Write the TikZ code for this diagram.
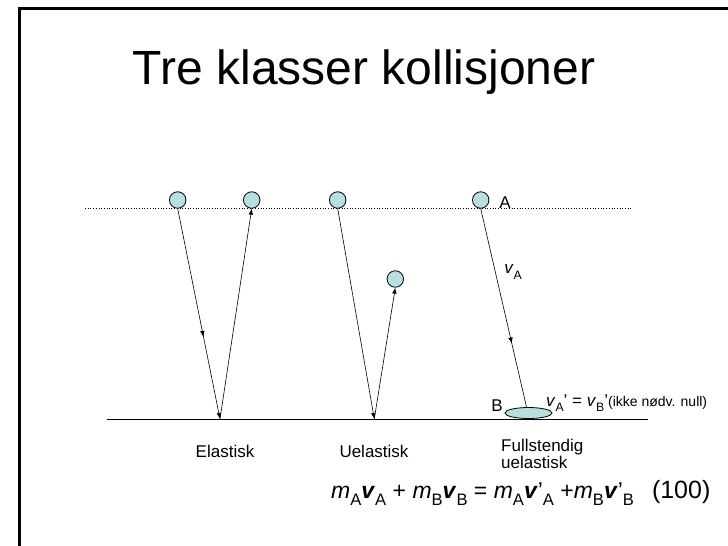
\documentclass[tikz,border=0pt]{standalone}
\usepackage{fontspec}
\usepackage{graphicx}
\setmainfont{Liberation Sans}
\usetikzlibrary{arrows.meta,shapes.geometric,decorations.markings}
\definecolor{ballblue}{RGB}{184,222,224}
\newcommand\lo[1]{\raisebox{-0.3em}{\scalebox{0.72}{#1}}}
\begin{document}
\begin{tikzpicture}[x=1pt,y=-1pt,
  ball/.style={circle, draw, fill=ballblue, line width=0.8pt, minimum size=16.5pt, inner sep=0pt},
  lbl/.style={inner sep=0pt, font=\fontsize{17}{20}\selectfont},
  tip/.style={-{Latex[length=6pt,width=4.5pt]}, line width=0.6pt},
  midarrow/.style={postaction={decorate}, decoration={markings,
    mark=at position #1 with {\arrow{Latex[length=6pt,width=4.5pt]}}}}]
\useasboundingbox (0,0) rectangle (728,546);
% frame
\draw[line width=3pt] (19,546) -- (19,8) -- (730,8);

\node[font=\fontsize{48}{56}\selectfont] (title) at (364,72) {Tre klasser kollisjoner};

% lines
\coordinate (dl) at (85,208);
\coordinate (dr) at (633,208);
\coordinate (fl) at (107,419.5);
\coordinate (fr) at (648,419.5);
\draw[dotted, line width=0.7pt] (dl) -- (dr);
\draw[line width=1.2pt] (fl) -- (fr);

% balls
\node[ball] (e1) at (177.7,200) {};
\node[ball] (e2) at (251.7,200) {};
\node[ball] (u1) at (337.7,200) {};
\node[ball] (u2) at (395.3,279) {};
\node[ball] (fa) at (480.7,200) {};
\node[ellipse, draw, fill=ballblue, line width=0.8pt, minimum width=47pt, minimum height=11pt, inner sep=0pt] (fb) at (528.5,413) {};

\coordinate (ev) at (220,419);
\coordinate (uv) at (374.3,419);

\draw[tip, midarrow=0.61] (e1.south) -- (ev);
\draw[tip] (ev) -- (e2.south);
\draw[tip] (u1.south) -- (uv);
\draw[tip] (uv) -- (u2.south);
\draw[line width=0.6pt, midarrow=0.68] (fa.south) -- ([xshift=-2pt]fb.north);

% labels
\node[lbl] (la) at (505,203) {A};
\node[lbl] (lb) at (497,406) {B};
\node[lbl] (lva) at (513,272) {\textit{v}\lo{A}};
\node[lbl, anchor=west] (lfin) at (546,403) {\textit{v}\lo{A}' = \textit{v}\lo{B}'{\fontsize{14}{16}\selectfont(ikke nødv. null)}};
\node[lbl] (lel) at (225,451) {Elastisk};
\node[lbl] (lue) at (374,451) {Uelastisk};
\node[lbl, anchor=west, align=left, font=\fontsize{17}{17}\selectfont] (lfu) at (501,454) {Fullstendig\\uelastisk};

\node[anchor=west, inner sep=0pt, font=\fontsize{23}{26}\selectfont] (eq) at (331,493)
  {\textit{m}\lo{A}\textbf{\textit{v}}\lo{A} + \textit{m}\lo{B}\textbf{\textit{v}}\lo{B} = \textit{m}\lo{A}\textbf{\textit{v}}’\lo{A} +\textit{m}\lo{B}\textbf{\textit{v}}’\lo{B}\hspace{18pt}{\fontsize{25}{26}\selectfont(100)}};
\end{tikzpicture}
\end{document}
